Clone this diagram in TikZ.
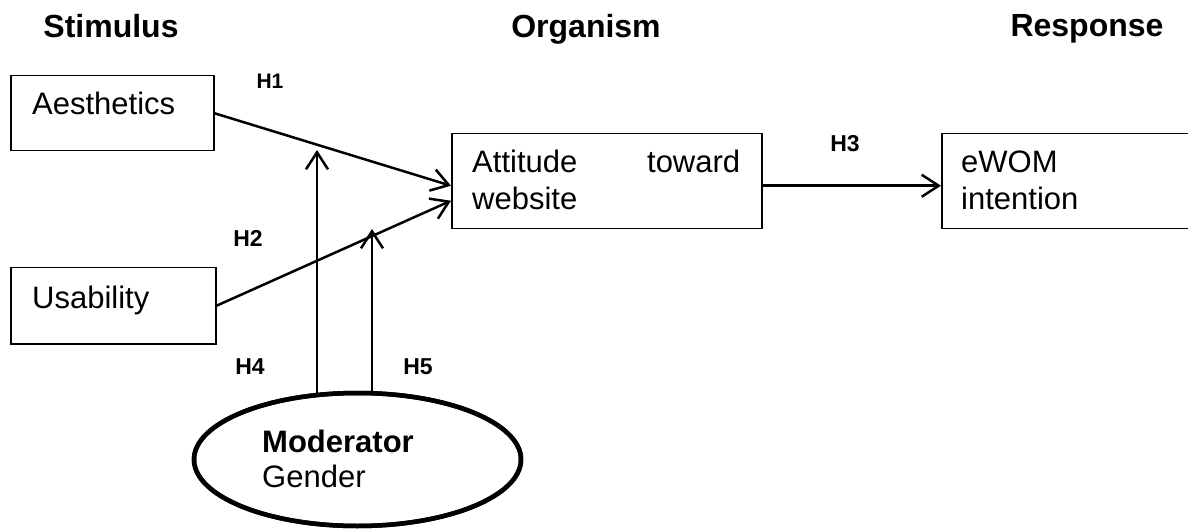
\documentclass[tikz,border=0pt]{standalone}
\usepackage{fontspec}
\setmainfont{Liberation Sans}
\usetikzlibrary{arrows.meta,shapes.geometric,calc}
\begin{document}
\begin{tikzpicture}[x=1pt,y=-1pt,
  boxnode/.style={draw,line width=1.5pt,rectangle,inner sep=0pt,anchor=north west},
  bodytext/.style={inner sep=0pt,anchor=base west,font=\fontsize{31}{36}\selectfont},
  headtext/.style={inner sep=0pt,anchor=base,font=\fontsize{32}{38}\selectfont\bfseries},
  htext/.style={inner sep=0pt,anchor=base,font=\fontsize{23}{26}\selectfont\bfseries},
  conn/.style={line width=2.5pt,-{Straight Barb[length=17pt,width=22pt,line width=2.5pt]}}]
\useasboundingbox (0,0) rectangle (1188,529);
% headers
\node[headtext] (hs) at (111,38) {Stimulus};
\node[headtext] (ho) at (586,38) {Organism};
\node[headtext] (hr) at (1087,37) {Response};
% boxes
\node[boxnode,minimum width=203pt,minimum height=75pt] (aes) at (10,75) {};
\node[bodytext] (aest) at (32,115) {Aesthetics};
\node[boxnode,minimum width=205pt,minimum height=76pt] (usa) at (10,267) {};
\node[bodytext] (usat) at (32,308) {Usability};
\node[boxnode,minimum width=310pt,minimum height=95pt] (att) at (451,133) {};
\node[bodytext] (att1) at (472,173) {\makebox[268pt][s]{Attitude\hfill toward}};
\node[bodytext] (att2) at (472,210) {website};
\node[boxnode,minimum width=270pt,minimum height=95pt] (ewom) at (941,133) {};
\node[bodytext] (ew1) at (961,173) {eWOM};
\node[bodytext] (ew2) at (961,210) {intention};
% labels
\node[htext,font=\fontsize{21}{24}\selectfont\bfseries] (h1) at (270,89) {H1};
\node[htext] (h2) at (248,247) {H2};
\node[htext] (h3) at (845,152) {H3};
\node[htext] (h4) at (250,374) {H4};
\node[htext] (h5) at (418,374) {H5};
% connectors
\draw[conn] (aes.east) -- ($(att.west)+(0,4.5)$);
\draw[conn] (usa.east) -- ($(att.west)+(0,19.5)$);
\draw[conn] ($(att.east)+(0,4.5)$) -- ($(ewom.west)+(0,4.5)$);
\coordinate (h4tip) at (317,150);
\coordinate (h5tip) at (372,229);
\node[draw,ellipse,line width=4.5pt,fill=white,minimum width=327pt,minimum height=133pt,inner sep=0pt] (mod) at (357.5,459.5) {};
\draw[conn] ($(h4tip |- mod.north)+(0,4)$) -- (h4tip);
\draw[conn] ($(h5tip |- mod.north)+(0,2)$) -- (h5tip);
\node[draw,ellipse,line width=4.5pt,minimum width=327pt,minimum height=133pt,inner sep=0pt] (mod2) at (mod.center) {};
\node[bodytext,font=\fontsize{31}{36}\selectfont\bfseries] (modt) at (262,452) {Moderator};
\node[bodytext] (gent) at (262,487) {Gender};
\end{tikzpicture}
\end{document}
